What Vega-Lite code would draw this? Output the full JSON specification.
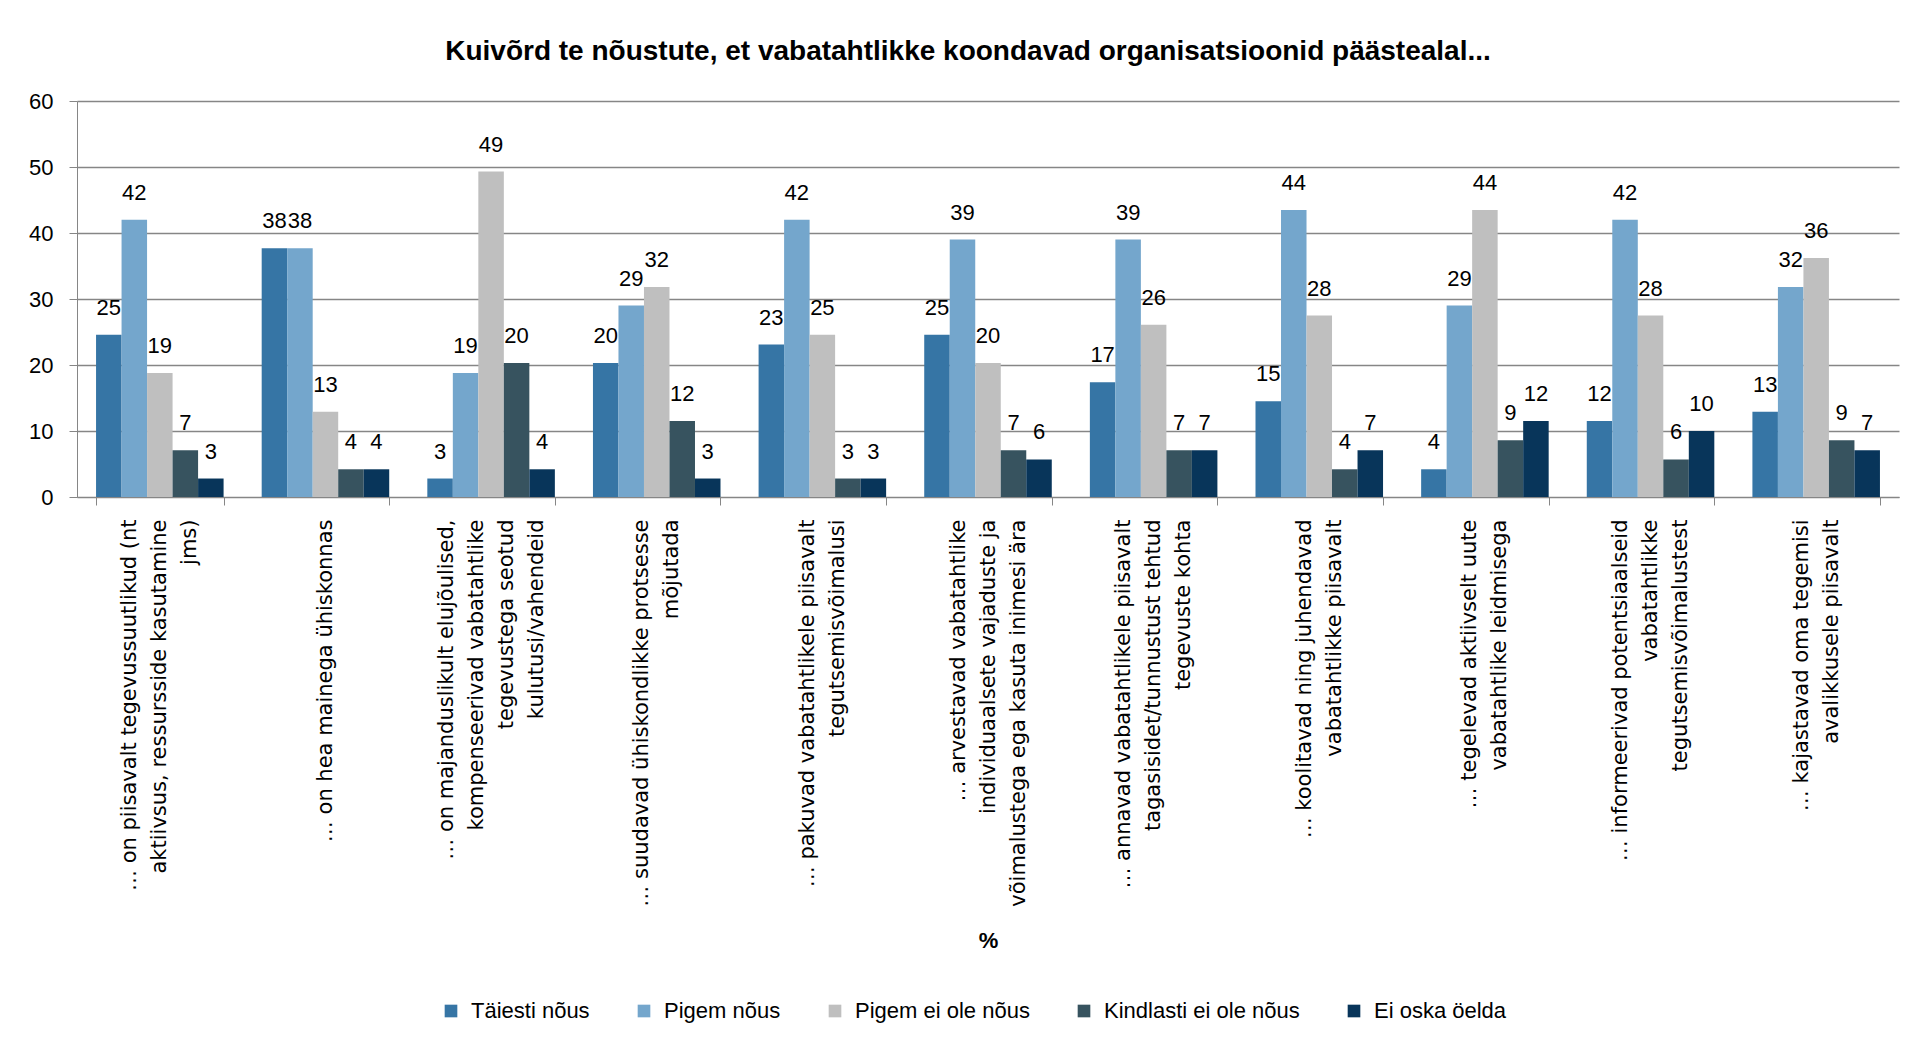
{
  "$schema": "https://vega.github.io/schema/vega-lite/v6.json",
  "width": 1822,
  "height": 396,
  "autosize": {"type": "none"},
  "padding": {"left": 77, "top": 101, "right": 14, "bottom": 551},
  "background": "white",
  "title": {
    "text": "Kuivõrd te nõustute, et vabatahtlikke koondavad organisatsioonid päästealal...",
    "font": "Liberation Sans",
    "fontSize": 28,
    "fontWeight": "bold",
    "color": "black",
    "anchor": "middle",
    "dx": -20,
    "offset": 24
  },
  "data": {
    "values": [
      {"cat": "… on piisavalt tegevussuutlikud (nt|aktiivsus, ressursside kasutamine|jms)", "series": "Täiesti nõus", "value": 24.6},
      {"cat": "… on piisavalt tegevussuutlikud (nt|aktiivsus, ressursside kasutamine|jms)", "series": "Pigem nõus", "value": 42.0},
      {"cat": "… on piisavalt tegevussuutlikud (nt|aktiivsus, ressursside kasutamine|jms)", "series": "Pigem ei ole nõus", "value": 18.8},
      {"cat": "… on piisavalt tegevussuutlikud (nt|aktiivsus, ressursside kasutamine|jms)", "series": "Kindlasti ei ole nõus", "value": 7.1},
      {"cat": "… on piisavalt tegevussuutlikud (nt|aktiivsus, ressursside kasutamine|jms)", "series": "Ei oska öelda", "value": 2.8},
      {"cat": "… on hea mainega ühiskonnas", "series": "Täiesti nõus", "value": 37.7},
      {"cat": "… on hea mainega ühiskonnas", "series": "Pigem nõus", "value": 37.7},
      {"cat": "… on hea mainega ühiskonnas", "series": "Pigem ei ole nõus", "value": 12.9},
      {"cat": "… on hea mainega ühiskonnas", "series": "Kindlasti ei ole nõus", "value": 4.2},
      {"cat": "… on hea mainega ühiskonnas", "series": "Ei oska öelda", "value": 4.2},
      {"cat": "… on majanduslikult elujõulised,|kompenseerivad vabatahtlike|tegevustega seotud|kulutusi/vahendeid", "series": "Täiesti nõus", "value": 2.8},
      {"cat": "… on majanduslikult elujõulised,|kompenseerivad vabatahtlike|tegevustega seotud|kulutusi/vahendeid", "series": "Pigem nõus", "value": 18.8},
      {"cat": "… on majanduslikult elujõulised,|kompenseerivad vabatahtlike|tegevustega seotud|kulutusi/vahendeid", "series": "Pigem ei ole nõus", "value": 49.3},
      {"cat": "… on majanduslikult elujõulised,|kompenseerivad vabatahtlike|tegevustega seotud|kulutusi/vahendeid", "series": "Kindlasti ei ole nõus", "value": 20.3},
      {"cat": "… on majanduslikult elujõulised,|kompenseerivad vabatahtlike|tegevustega seotud|kulutusi/vahendeid", "series": "Ei oska öelda", "value": 4.2},
      {"cat": "… suudavad ühiskondlikke protsesse|mõjutada", "series": "Täiesti nõus", "value": 20.3},
      {"cat": "… suudavad ühiskondlikke protsesse|mõjutada", "series": "Pigem nõus", "value": 29.0},
      {"cat": "… suudavad ühiskondlikke protsesse|mõjutada", "series": "Pigem ei ole nõus", "value": 31.8},
      {"cat": "… suudavad ühiskondlikke protsesse|mõjutada", "series": "Kindlasti ei ole nõus", "value": 11.5},
      {"cat": "… suudavad ühiskondlikke protsesse|mõjutada", "series": "Ei oska öelda", "value": 2.8},
      {"cat": "… pakuvad vabatahtlikele piisavalt|tegutsemisvõimalusi", "series": "Täiesti nõus", "value": 23.1},
      {"cat": "… pakuvad vabatahtlikele piisavalt|tegutsemisvõimalusi", "series": "Pigem nõus", "value": 42.0},
      {"cat": "… pakuvad vabatahtlikele piisavalt|tegutsemisvõimalusi", "series": "Pigem ei ole nõus", "value": 24.6},
      {"cat": "… pakuvad vabatahtlikele piisavalt|tegutsemisvõimalusi", "series": "Kindlasti ei ole nõus", "value": 2.8},
      {"cat": "… pakuvad vabatahtlikele piisavalt|tegutsemisvõimalusi", "series": "Ei oska öelda", "value": 2.8},
      {"cat": "… arvestavad vabatahtlike|individuaalsete vajaduste ja|võimalustega ega kasuta inimesi ära", "series": "Täiesti nõus", "value": 24.6},
      {"cat": "… arvestavad vabatahtlike|individuaalsete vajaduste ja|võimalustega ega kasuta inimesi ära", "series": "Pigem nõus", "value": 39.0},
      {"cat": "… arvestavad vabatahtlike|individuaalsete vajaduste ja|võimalustega ega kasuta inimesi ära", "series": "Pigem ei ole nõus", "value": 20.3},
      {"cat": "… arvestavad vabatahtlike|individuaalsete vajaduste ja|võimalustega ega kasuta inimesi ära", "series": "Kindlasti ei ole nõus", "value": 7.1},
      {"cat": "… arvestavad vabatahtlike|individuaalsete vajaduste ja|võimalustega ega kasuta inimesi ära", "series": "Ei oska öelda", "value": 5.7},
      {"cat": "… annavad vabatahtlikele piisavalt|tagasisidet/tunnustust tehtud|tegevuste kohta", "series": "Täiesti nõus", "value": 17.4},
      {"cat": "… annavad vabatahtlikele piisavalt|tagasisidet/tunnustust tehtud|tegevuste kohta", "series": "Pigem nõus", "value": 39.0},
      {"cat": "… annavad vabatahtlikele piisavalt|tagasisidet/tunnustust tehtud|tegevuste kohta", "series": "Pigem ei ole nõus", "value": 26.1},
      {"cat": "… annavad vabatahtlikele piisavalt|tagasisidet/tunnustust tehtud|tegevuste kohta", "series": "Kindlasti ei ole nõus", "value": 7.1},
      {"cat": "… annavad vabatahtlikele piisavalt|tagasisidet/tunnustust tehtud|tegevuste kohta", "series": "Ei oska öelda", "value": 7.1},
      {"cat": "… koolitavad ning juhendavad|vabatahtlikke piisavalt", "series": "Täiesti nõus", "value": 14.5},
      {"cat": "… koolitavad ning juhendavad|vabatahtlikke piisavalt", "series": "Pigem nõus", "value": 43.5},
      {"cat": "… koolitavad ning juhendavad|vabatahtlikke piisavalt", "series": "Pigem ei ole nõus", "value": 27.5},
      {"cat": "… koolitavad ning juhendavad|vabatahtlikke piisavalt", "series": "Kindlasti ei ole nõus", "value": 4.2},
      {"cat": "… koolitavad ning juhendavad|vabatahtlikke piisavalt", "series": "Ei oska öelda", "value": 7.1},
      {"cat": "… tegelevad aktiivselt uute|vabatahtlike leidmisega", "series": "Täiesti nõus", "value": 4.2},
      {"cat": "… tegelevad aktiivselt uute|vabatahtlike leidmisega", "series": "Pigem nõus", "value": 29.0},
      {"cat": "… tegelevad aktiivselt uute|vabatahtlike leidmisega", "series": "Pigem ei ole nõus", "value": 43.5},
      {"cat": "… tegelevad aktiivselt uute|vabatahtlike leidmisega", "series": "Kindlasti ei ole nõus", "value": 8.6},
      {"cat": "… tegelevad aktiivselt uute|vabatahtlike leidmisega", "series": "Ei oska öelda", "value": 11.5},
      {"cat": "… informeerivad potentsiaalseid|vabatahtlikke|tegutsemisvõimalustest", "series": "Täiesti nõus", "value": 11.5},
      {"cat": "… informeerivad potentsiaalseid|vabatahtlikke|tegutsemisvõimalustest", "series": "Pigem nõus", "value": 42.0},
      {"cat": "… informeerivad potentsiaalseid|vabatahtlikke|tegutsemisvõimalustest", "series": "Pigem ei ole nõus", "value": 27.5},
      {"cat": "… informeerivad potentsiaalseid|vabatahtlikke|tegutsemisvõimalustest", "series": "Kindlasti ei ole nõus", "value": 5.7},
      {"cat": "… informeerivad potentsiaalseid|vabatahtlikke|tegutsemisvõimalustest", "series": "Ei oska öelda", "value": 10.0},
      {"cat": "… kajastavad oma tegemisi|avalikkusele piisavalt", "series": "Täiesti nõus", "value": 12.9},
      {"cat": "… kajastavad oma tegemisi|avalikkusele piisavalt", "series": "Pigem nõus", "value": 31.8},
      {"cat": "… kajastavad oma tegemisi|avalikkusele piisavalt", "series": "Pigem ei ole nõus", "value": 36.2},
      {"cat": "… kajastavad oma tegemisi|avalikkusele piisavalt", "series": "Kindlasti ei ole nõus", "value": 8.6},
      {"cat": "… kajastavad oma tegemisi|avalikkusele piisavalt", "series": "Ei oska öelda", "value": 7.1}
    ]
  },
  "encoding": {
    "x": {
      "field": "cat",
      "type": "nominal",
      "sort": null,
      "title": "%",
      "scale": {"paddingInner": 0.23, "paddingOuter": 0.115},
      "axis": {
        "labelExpr": "split(datum.label, '|')",
        "labelAngle": -90,
        "labelAlign": "right",
        "labelBaseline": "middle",
        "labelOffset": {"expr": "-(length(split(datum.value, '|')) - 1) * 15"},
        "labelFont": "DejaVu Sans",
        "labelFontSize": 21,
        "labelLineHeight": 30,
        "labelColor": "black",
        "labelLimit": 1000,
        "labelPadding": 14,
        "tickBand": "extent",
        "tickSize": 8,
        "tickColor": "#868686",
        "domainColor": "#868686",
        "titleFont": "Liberation Sans",
        "titleFontSize": 22,
        "titleFontWeight": "bold",
        "titleColor": "black",
        "titleY": 443,
        "titleBaseline": "middle"
      }
    },
    "xOffset": {
      "field": "series",
      "type": "nominal",
      "sort": ["Täiesti nõus", "Pigem nõus", "Pigem ei ole nõus", "Kindlasti ei ole nõus", "Ei oska öelda"],
      "scale": {"paddingInner": 0, "paddingOuter": 0}
    },
    "y": {
      "field": "value",
      "type": "quantitative",
      "title": null,
      "scale": {"domain": [0, 60], "nice": false},
      "axis": {
        "values": [0, 10, 20, 30, 40, 50, 60],
        "labelFont": "Liberation Sans",
        "labelFontSize": 22,
        "labelColor": "black",
        "labelPadding": 16,
        "tickSize": 8,
        "tickColor": "#868686",
        "domainColor": "#868686",
        "gridColor": "#868686",
        "gridWidth": 1.3
      }
    }
  },
  "layer": [
    {
      "mark": {"type": "bar"},
      "encoding": {
        "color": {
          "field": "series",
          "type": "nominal",
          "sort": ["Täiesti nõus", "Pigem nõus", "Pigem ei ole nõus", "Kindlasti ei ole nõus", "Ei oska öelda"],
          "scale": {
            "domain": ["Täiesti nõus", "Pigem nõus", "Pigem ei ole nõus", "Kindlasti ei ole nõus", "Ei oska öelda"],
            "range": ["#3675A5", "#74A6CC", "#BFBFBF", "#37535F", "#08355A"]
          },
          "legend": {
            "title": null,
            "orient": "none",
            "legendX": 363,
            "legendY": 899,
            "direction": "horizontal",
            "symbolType": "square",
            "symbolSize": 160,
            "symbolStrokeWidth": 0,
            "labelFont": "Liberation Sans",
            "labelFontSize": 22,
            "labelColor": "black",
            "labelLimit": 500,
            "labelOffset": 9,
            "columnPadding": 43,
            "padding": 0
          }
        }
      }
    },
    {
      "mark": {"type": "text", "baseline": "alphabetic", "dy": -20, "font": "Liberation Sans", "fontSize": 22, "color": "black"},
      "encoding": {"text": {"field": "value", "type": "quantitative", "format": ".0f"}}
    }
  ],
  "config": {"view": {"stroke": null}}
}
